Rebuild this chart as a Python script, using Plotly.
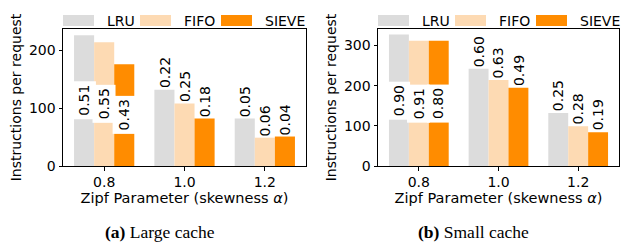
import plotly.graph_objects as go

W, H = 621, 245

categories = ["0.8", "1.0", "1.2"]
series_names = ["LRU", "FIFO", "SIEVE"]
colors = ["#DCDCDC", "#FDDAB3", "#FF8C00"]

# Large cache (a)
large_lru = [226, 132, 82]
large_fifo = [214, 108, 49]
large_sieve = [176, 82, 51]
large_lru_labels = ["0.51", "0.22", "0.05"]
large_fifo_labels = ["0.55", "0.25", "0.06"]
large_sieve_labels = ["0.43", "0.18", "0.04"]

# Small cache (b)
small_lru = [327, 242, 132]
small_fifo = [312, 214, 99]
small_sieve = [312, 195, 84]
small_lru_labels = ["0.90", "0.60", "0.25"]
small_fifo_labels = ["0.91", "0.63", "0.28"]
small_sieve_labels = ["0.80", "0.49", "0.19"]

inside_categories = ["0.8"]

y_ticks_large = [0, 100, 200]
y_ticks_small = [0, 100, 200, 300]
y_max_large = 237
y_max_small = 341

x_title = "Zipf Parameter (skewness <i>α</i>)"
y_title = "Instructions per request"
captions = ["<b>(a)</b> Large cache", "<b>(b)</b> Small cache"]

FONT = "DejaVu Sans"

def px_x(p):
    return p / W

def px_y(p):
    return 1 - p / H

panels = [
    dict(vals=[large_lru, large_fifo, large_sieve],
         labels=[large_lru_labels, large_fifo_labels, large_sieve_labels],
         xdom=(63, 306), ticks=y_ticks_large, ymax=y_max_large, cap_x=160),
    dict(vals=[small_lru, small_fifo, small_sieve],
         labels=[small_lru_labels, small_fifo_labels, small_sieve_labels],
         xdom=(378, 619), ticks=y_ticks_small, ymax=y_max_small, cap_x=474),
]

fig = go.Figure()
annotations = []
shapes = []
bar_w = 0.25
xpos = list(range(len(categories)))
layout = {}

for p_i, p in enumerate(panels):
    sfx = "" if p_i == 0 else str(p_i + 1)
    xa, ya = "x" + sfx, "y" + sfx
    for s_i, name in enumerate(series_names):
        fig.add_trace(go.Bar(
            x=xpos, y=p["vals"][s_i], name=name, width=bar_w,
            offset=-1.5 * bar_w + s_i * bar_w,
            marker=dict(color=colors[s_i], line=dict(width=0)),
            xaxis=xa, yaxis=ya, showlegend=False,
        ))
        for c_i, cat in enumerate(categories):
            v = p["vals"][s_i][c_i]
            xc = c_i + (s_i - 1) * bar_w
            if cat in inside_categories:
                annotations.append(dict(
                    x=xc, y=v / 2, xref=xa, yref=ya, text=p["labels"][s_i][c_i],
                    textangle=-90, showarrow=False, xanchor="center", yanchor="middle",
                    bgcolor="white", borderpad=3,
                    font=dict(family=FONT, size=14, color="black")))
            else:
                annotations.append(dict(
                    x=xc, y=v, xref=xa, yref=ya, text=p["labels"][s_i][c_i],
                    textangle=-90, showarrow=False, xanchor="center", yanchor="middle",
                    yshift=17,
                    font=dict(family=FONT, size=14, color="black")))
    x0, x1 = p["xdom"]
    layout["xaxis" + sfx] = dict(
        domain=[px_x(x0), px_x(x1)], range=[-0.5125, 2.5125], automargin=False,
        tickmode="array", tickvals=xpos, ticktext=categories,
        ticks="outside", ticklen=3.5, tickwidth=1, tickcolor="black",
        showline=True, linecolor="black", linewidth=1, mirror=True,
        showgrid=False, zeroline=False, anchor=ya,
        tickfont=dict(family=FONT, size=14, color="black"),
        title=dict(text=x_title, font=dict(family=FONT, size=14.5, color="black"), standoff=2),
    )
    layout["yaxis" + sfx] = dict(
        domain=[px_y(166), px_y(29)], range=[0, p["ymax"]], automargin=False,
        tickmode="array", tickvals=p["ticks"],
        ticks="outside", ticklen=3.5, tickwidth=1, tickcolor="black",
        showline=True, linecolor="black", linewidth=1, mirror=True,
        showgrid=False, zeroline=False, anchor=xa,
        tickfont=dict(family=FONT, size=14, color="black"),
        title=dict(text=y_title, font=dict(family=FONT, size=14, color="black"), standoff=4),
    )
    # manual legend above the axes
    patch_off = [0, 77, 158]
    text_off = [42, 119, 200]
    for s_i, name in enumerate(series_names):
        shapes.append(dict(type="rect", xref="paper", yref="paper",
                           x0=px_x(x0 + patch_off[s_i]), x1=px_x(x0 + patch_off[s_i] + 31),
                           y0=px_y(26), y1=px_y(15), fillcolor=colors[s_i], line=dict(width=0)))
        annotations.append(dict(x=px_x(x0 + text_off[s_i]), y=px_y(20.5), xref="paper", yref="paper",
                                text=name, showarrow=False, xanchor="left", yanchor="middle",
                                font=dict(family=FONT, size=14, color="black")))
    annotations.append(dict(x=px_x(p["cap_x"]), y=px_y(232), xref="paper", yref="paper",
                            text=captions[p_i], showarrow=False, xanchor="center", yanchor="middle",
                            font=dict(family="Liberation Serif", size=17.5, color="black")))

fig.update_layout(
    template="none",
    width=W, height=H, margin=dict(l=0, r=0, t=0, b=0, autoexpand=False),
    plot_bgcolor="white", paper_bgcolor="white",
    barmode="overlay", showlegend=False,
    annotations=annotations, shapes=shapes, **layout,
)

fig.write_html("out.html", config={"displayModeBar": False},
               post_script="document.body.style.margin='0';document.body.style.overflow='hidden';")
